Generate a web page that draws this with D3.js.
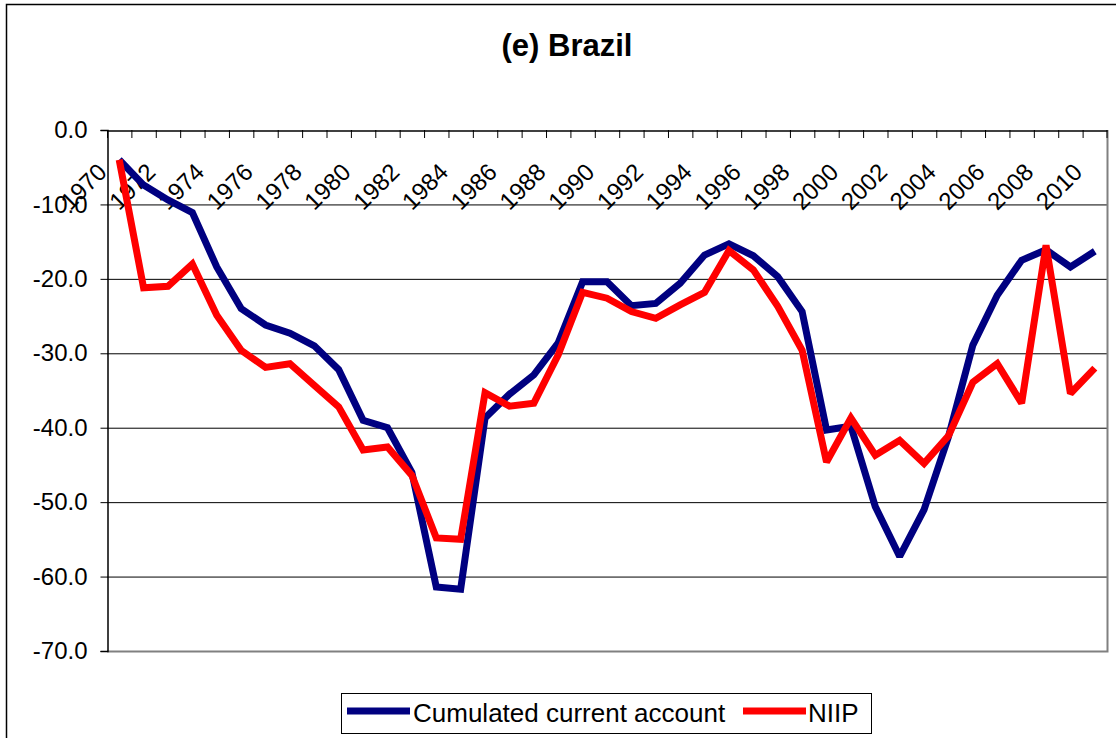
<!DOCTYPE html>
<html>
<head>
<meta charset="utf-8">
<script src="https://cdn.jsdelivr.net/npm/d3@7"></script>
<style>
  html, body { margin: 0; padding: 0; background: #fff; }
  svg { display: block; font-family: "Liberation Sans", Arial, sans-serif; }
</style>
</head>
<body>
<svg id="chart" width="1116" height="738"></svg>
<script>
const years = [1970,1971,1972,1973,1974,1975,1976,1977,1978,1979,
               1980,1981,1982,1983,1984,1985,1986,1987,1988,1989,
               1990,1991,1992,1993,1994,1995,1996,1997,1998,1999,
               2000,2001,2002,2003,2004,2005,2006,2007,2008,2009,2010];
const xTickLabels = [1970,1972,1974,1976,1978,1980,1982,1984,1986,1988,1990,
                     1992,1994,1996,1998,2000,2002,2004,2006,2008,2010];
const yTicks = [0,-10,-20,-30,-40,-50,-60,-70];
const cumulatedCA = [-4.0,-7.4,-9.4,-11.1,-18.4,-24.0,-26.2,-27.3,-29.0,-32.2,
                     -39.0,-40.0,-46.0,-61.4,-61.7,-38.7,-35.5,-32.9,-28.6,-20.4,
                     -20.4,-23.6,-23.3,-20.6,-16.8,-15.3,-16.9,-19.7,-24.4,-40.3,
                     -39.8,-50.6,-57.3,-51.0,-41.2,-28.9,-22.2,-17.5,-16.1,-18.4,-16.3];
const niip = [-4.0,-21.2,-21.0,-18.0,-24.9,-29.6,-31.9,-31.4,-34.3,-37.2,
              -43.0,-42.6,-46.4,-54.8,-55.0,-35.3,-37.1,-36.7,-30.2,-21.8,
              -22.6,-24.4,-25.3,-23.5,-21.8,-16.2,-18.8,-23.7,-29.6,-44.6,
              -38.7,-43.7,-41.7,-44.8,-41.1,-33.9,-31.4,-36.7,-15.5,-35.4,-32.0];
const seriesNames = ["Cumulated current account", "NIIP"];
const seriesColors = ["#000080", "#ff0000"];
const title = "(e) Brazil";

const svg = d3.select("#chart");
const L = 107, R = 1107, T = 130, B = 651;

// outer chart frame
svg.append("rect").attr("x", 6.5).attr("y", 4.5).attr("width", 1130).attr("height", 760)
  .attr("fill", "#fff").attr("stroke", "#000").attr("stroke-width", 1.5);

svg.append("text").attr("x", 567).attr("y", 56).attr("text-anchor", "middle")
  .attr("font-size", 31).attr("font-weight", "bold").text(title);

const x = d3.scaleBand().domain(years).range([L, R]).padding(0);
const y = d3.scaleLinear().domain([-70, 0]).range([B, T]);
const cx = d => x(d) + x.bandwidth() / 2;

// gridlines
svg.append("g").selectAll("line").data(yTicks.filter(v => v < 0 && v > -70)).join("line")
  .attr("x1", L).attr("x2", R).attr("y1", d => y(d) + 0.5).attr("y2", d => y(d) + 0.5)
  .attr("stroke", "#000").attr("stroke-width", 1);

// plot border right & bottom (grey)
svg.append("path").attr("d", `M${L},${B + 0.5}H${R + 0.5}V${T}`)
  .attr("fill", "none").attr("stroke", "#808080").attr("stroke-width", 2);

// y axis
const yAxis = svg.append("g").attr("transform", `translate(${L + 0.5},0)`)
  .call(d3.axisLeft(y).tickValues(yTicks).tickSize(7).tickPadding(13).tickFormat(d => d.toFixed(1)));
yAxis.select(".domain").attr("stroke", "#000").attr("stroke-width", 1.5);
yAxis.selectAll(".tick line").attr("stroke", "#000");
yAxis.selectAll("text").attr("font-size", 24).attr("font-family", "Liberation Sans, Arial, sans-serif").attr("fill", "#000");

// x axis (at value 0, top)
const xAxis = svg.append("g").attr("transform", `translate(0,${y(0) + 0.5})`)
  .call(d3.axisBottom(x).tickValues(xTickLabels).tickSize(0).tickSizeOuter(0));
xAxis.select(".domain").attr("stroke", "#000").attr("stroke-width", 1.5);
xAxis.selectAll("text")
  .attr("font-size", 24).attr("font-family", "Liberation Sans, Arial, sans-serif").attr("fill", "#000")
  .attr("y", null).attr("dy", null).attr("text-anchor", "end")
  .attr("transform", "translate(-11,43) rotate(-45)");
// category boundary ticks
svg.append("g").selectAll("line").data(years.concat(["end"])).join("line")
  .attr("x1", d => d === "end" ? R : x(d) + 0.5).attr("x2", d => d === "end" ? R : x(d) + 0.5)
  .attr("y1", y(0)).attr("y2", y(0) + 8)
  .attr("stroke", "#000").attr("stroke-width", 1);

// lines
const line = d3.line().x((d, i) => cx(years[i])).y(d => y(d));
[cumulatedCA, niip].forEach((s, k) => {
  svg.append("path").datum(s).attr("d", line)
    .attr("fill", "none").attr("stroke", seriesColors[k]).attr("stroke-width", 7)
    .attr("stroke-linejoin", "miter").attr("stroke-miterlimit", 2);
});

// legend
const lg = svg.append("g");
lg.append("rect").attr("x", 341.5).attr("y", 693.5).attr("width", 530).attr("height", 40)
  .attr("fill", "#fff").attr("stroke", "#000").attr("stroke-width", 1);
const legendItems = [{sx: 347, tx: 413}, {sx: 743, tx: 808}];
legendItems.forEach((p, k) => {
  lg.append("line").attr("x1", p.sx).attr("x2", p.sx + 63).attr("y1", 711).attr("y2", 711)
    .attr("stroke", seriesColors[k]).attr("stroke-width", 7);
  lg.append("text").attr("x", p.tx).attr("y", 722).attr("font-size", 26).text(seriesNames[k]);
});
</script>
</body>
</html>
